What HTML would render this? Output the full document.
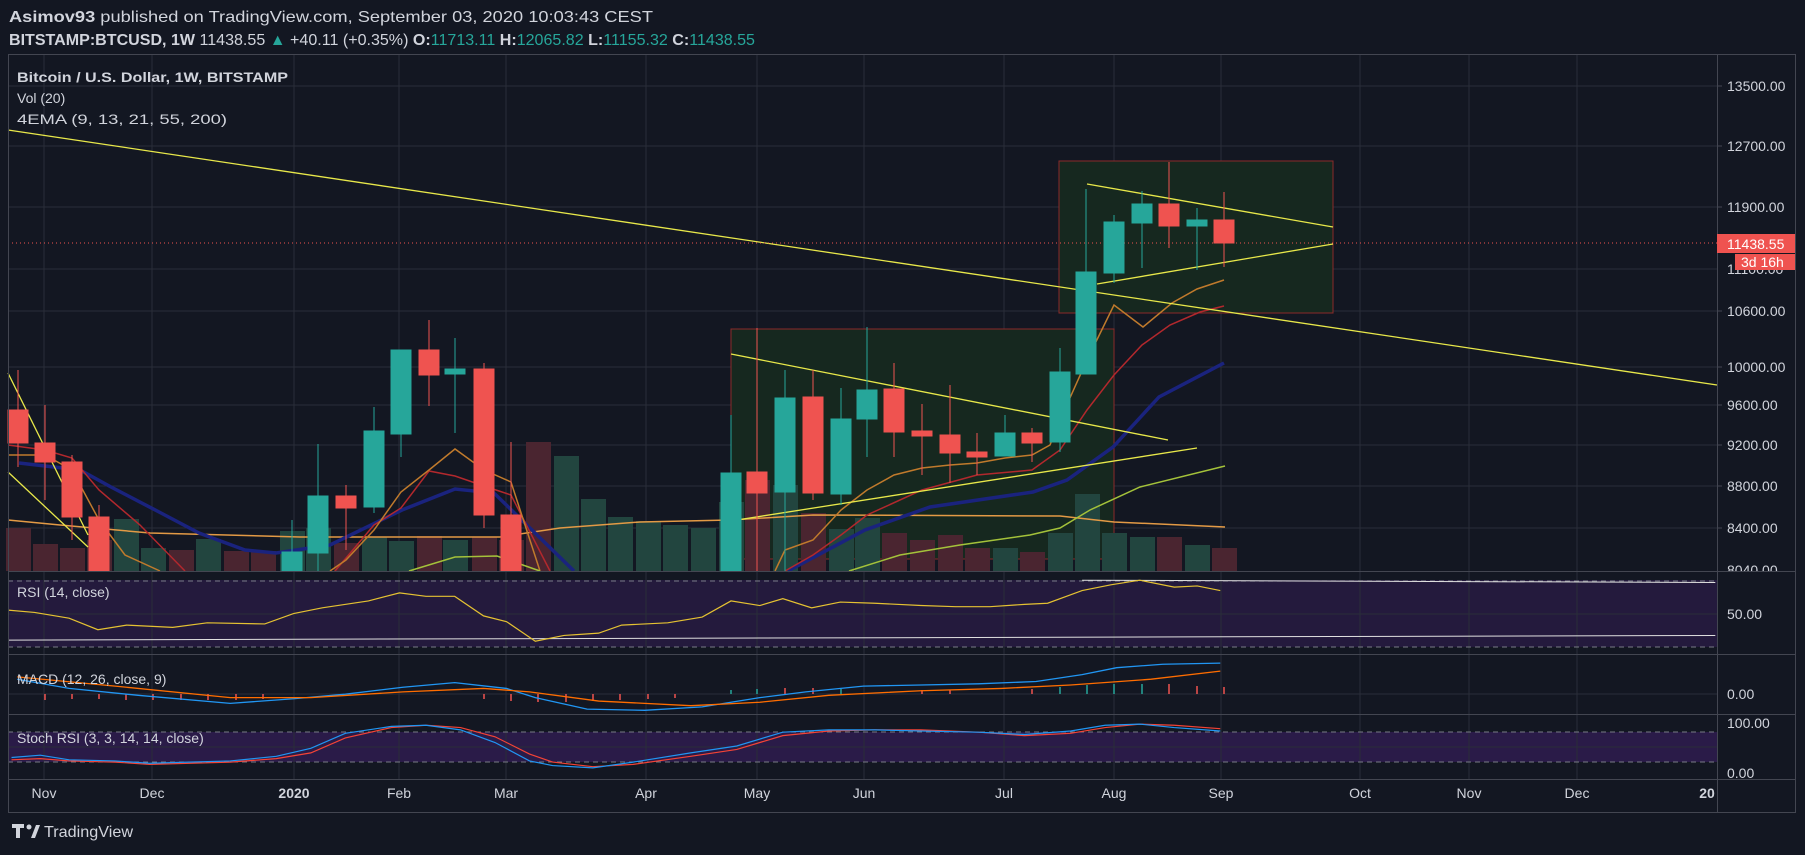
<!DOCTYPE html>
<html><head><meta charset="utf-8"><style>
html,body{margin:0;padding:0;background:#131722;}
svg{display:block;font-family:"Liberation Sans",sans-serif;}
</style></head><body>
<svg width="1805" height="855" viewBox="0 0 1805 855" xmlns="http://www.w3.org/2000/svg">
<defs>
<clipPath id="mainclip"><rect x="1718" y="54" width="78" height="517"/></clipPath>
<clipPath id="stclip"><rect x="1718" y="715" width="78" height="64"/></clipPath>
</defs>
<rect width="1805" height="855" fill="#131722"/>
<!-- header -->
<text x="9" y="22" font-size="16" fill="#d1d4dc" textLength="644" lengthAdjust="spacingAndGlyphs"><tspan font-weight="bold">Asimov93</tspan> published on TradingView.com, September 03, 2020 10:03:43 CEST</text>
<text x="9" y="45" font-size="16" fill="#d1d4dc" textLength="746" lengthAdjust="spacingAndGlyphs"><tspan font-weight="bold">BITSTAMP:BTCUSD, 1W</tspan> 11438.55 <tspan fill="#26a69a">▲</tspan> +40.11 (+0.35%) <tspan font-weight="bold">O:</tspan><tspan fill="#26a69a">11713.11</tspan> <tspan font-weight="bold">H:</tspan><tspan fill="#26a69a">12065.82</tspan> <tspan font-weight="bold">L:</tspan><tspan fill="#26a69a">11155.32</tspan> <tspan font-weight="bold">C:</tspan><tspan fill="#26a69a">11438.55</tspan></text>

<!-- panes background shading -->
<rect x="8" y="580" width="1709" height="67" fill="#241a3d"/>
<rect x="8" y="732" width="1709" height="30" fill="#2a1b48"/>

<!-- grid -->
<g stroke="#2a2e39" stroke-width="1">
<line x1="44" y1="54" x2="44" y2="779"/><line x1="152" y1="54" x2="152" y2="779"/><line x1="294" y1="54" x2="294" y2="779"/><line x1="399" y1="54" x2="399" y2="779"/><line x1="506" y1="54" x2="506" y2="779"/><line x1="646" y1="54" x2="646" y2="779"/><line x1="757" y1="54" x2="757" y2="779"/><line x1="864" y1="54" x2="864" y2="779"/><line x1="1004" y1="54" x2="1004" y2="779"/><line x1="1114" y1="54" x2="1114" y2="779"/><line x1="1221" y1="54" x2="1221" y2="779"/><line x1="1360" y1="54" x2="1360" y2="779"/><line x1="1469" y1="54" x2="1469" y2="779"/><line x1="1577" y1="54" x2="1577" y2="779"/>
<line x1="8" y1="86" x2="1717" y2="86"/><line x1="8" y1="146" x2="1717" y2="146"/><line x1="8" y1="207" x2="1717" y2="207"/><line x1="8" y1="269" x2="1717" y2="269"/><line x1="8" y1="311" x2="1717" y2="311"/><line x1="8" y1="367" x2="1717" y2="367"/><line x1="8" y1="405" x2="1717" y2="405"/><line x1="8" y1="445" x2="1717" y2="445"/><line x1="8" y1="486" x2="1717" y2="486"/><line x1="8" y1="528" x2="1717" y2="528"/>
<line x1="8" y1="614" x2="1717" y2="614"/><line x1="8" y1="694" x2="1717" y2="694"/><line x1="8" y1="747" x2="1717" y2="747"/>
</g>
<g stroke="#787b86" stroke-dasharray="5,4" stroke-width="1">
<line x1="8" y1="581" x2="1717" y2="581"/><line x1="8" y1="647" x2="1717" y2="647"/>
<line x1="8" y1="732" x2="1717" y2="732"/><line x1="8" y1="762" x2="1717" y2="762"/>
</g>

<!-- boxes -->
<rect x="731" y="329" width="383" height="230" fill="#16281f" stroke="#8b2a2a" stroke-width="1"/>
<rect x="1059" y="161" width="274" height="152" fill="#16281f" stroke="#8b2a2a" stroke-width="1"/>

<!-- volume -->
<g>
<rect x="6" y="528" width="25" height="43" fill="#4a2530"/><rect x="33" y="544" width="25" height="27" fill="#4a2530"/><rect x="60" y="548" width="25" height="23" fill="#4a2530"/><rect x="87" y="540" width="25" height="31" fill="#4a2530"/><rect x="114" y="519" width="25" height="52" fill="#22453f"/><rect x="141" y="548" width="25" height="23" fill="#22453f"/><rect x="169" y="550" width="25" height="21" fill="#4a2530"/><rect x="196" y="539" width="25" height="32" fill="#22453f"/><rect x="224" y="551" width="25" height="20" fill="#4a2530"/><rect x="251" y="551" width="25" height="20" fill="#4a2530"/><rect x="280" y="531" width="25" height="40" fill="#22453f"/><rect x="306" y="528" width="25" height="43" fill="#22453f"/><rect x="334" y="543" width="25" height="28" fill="#4a2530"/><rect x="362" y="537" width="25" height="34" fill="#22453f"/><rect x="389" y="541" width="25" height="30" fill="#22453f"/><rect x="417" y="536" width="25" height="35" fill="#4a2530"/><rect x="443" y="540" width="25" height="31" fill="#22453f"/><rect x="472" y="537" width="25" height="34" fill="#4a2530"/><rect x="499" y="540" width="25" height="31" fill="#4a2530"/><rect x="526" y="442" width="25" height="129" fill="#4a2530"/><rect x="554" y="456" width="25" height="115" fill="#22453f"/><rect x="581" y="499" width="25" height="72" fill="#22453f"/><rect x="608" y="517" width="25" height="54" fill="#22453f"/><rect x="636" y="521" width="25" height="50" fill="#22453f"/><rect x="663" y="525" width="25" height="46" fill="#22453f"/><rect x="691" y="528" width="25" height="43" fill="#22453f"/><rect x="719" y="502" width="25" height="69" fill="#22453f"/><rect x="745" y="480" width="25" height="91" fill="#4a2530"/><rect x="773" y="485" width="25" height="86" fill="#22453f"/><rect x="801" y="513" width="25" height="58" fill="#4a2530"/><rect x="829" y="529" width="25" height="42" fill="#22453f"/><rect x="855" y="518" width="25" height="53" fill="#22453f"/><rect x="882" y="533" width="25" height="38" fill="#4a2530"/><rect x="910" y="540" width="25" height="31" fill="#4a2530"/><rect x="938" y="535" width="25" height="36" fill="#4a2530"/><rect x="965" y="548" width="25" height="23" fill="#4a2530"/><rect x="993" y="548" width="25" height="23" fill="#22453f"/><rect x="1020" y="552" width="25" height="19" fill="#4a2530"/><rect x="1048" y="533" width="25" height="38" fill="#22453f"/><rect x="1075" y="494" width="25" height="77" fill="#22453f"/><rect x="1102" y="533" width="25" height="38" fill="#22453f"/><rect x="1130" y="537" width="25" height="34" fill="#22453f"/><rect x="1157" y="537" width="25" height="34" fill="#4a2530"/><rect x="1185" y="545" width="25" height="26" fill="#22453f"/><rect x="1212" y="548" width="25" height="23" fill="#4a2530"/>
</g>

<!-- EMAs -->
<g fill="none">
<polyline stroke="#e39a45" stroke-width="1.5" points="8,520 60,525 150,533 300,537 500,537 560,528 640,522 730,520 813,515 1060,516 1114,522 1225,527"/>
<polyline stroke="#1a237e" stroke-width="3.5" points="19,463 80,470 111,487 161,513 199,533 245,550 276,553 330,545 402,510 455,489 494,493 574,571"/>
<polyline stroke="#1a237e" stroke-width="3.5" points="788,571 865,530 930,507 1033,492 1067,480 1113,447 1159,397 1224,363"/>
<polyline stroke="#b2282d" stroke-width="1.5" points="8,445 45,450 72,458 99,490 140,525 185,571"/>
<polyline stroke="#b2282d" stroke-width="1.5" points="335,571 374,525 401,508 429,471 455,476 484,486 511,495 550,571"/>
<polyline stroke="#b2282d" stroke-width="1.5" points="785,571 813,555 841,535 867,515 922,490 977,475 1032,470 1060,450 1087,410 1114,375 1142,345 1170,325 1200,312 1224,306"/>
<polyline stroke="#c07a2c" stroke-width="1.5" points="8,455 45,455 72,470 99,520 125,555 160,571"/>
<polyline stroke="#c07a2c" stroke-width="1.5" points="330,571 346,560 374,530 401,492 429,470 455,449 484,470 511,482 540,571"/>
<polyline stroke="#c07a2c" stroke-width="1.5" points="775,571 785,550 813,540 841,510 867,490 894,475 922,468 950,465 977,463 1005,458 1032,455 1050,445 1060,420 1087,360 1114,305 1143,327 1172,303 1197,289 1224,280"/>
<polyline stroke="#a4c23a" stroke-width="1.5" points="409,571 455,557 497,556 540,571"/>
<polyline stroke="#a4c23a" stroke-width="1.5" points="849,571 900,555 960,545 1030,535 1060,528 1090,510 1140,487 1225,466"/>
</g>

<!-- trendlines -->
<g stroke="#e8e84a" stroke-width="1.3" fill="none">
<line x1="8" y1="130" x2="1717" y2="385"/>
<line x1="731" y1="354" x2="1168" y2="440"/>
<line x1="737" y1="520" x2="1197" y2="448"/>
<line x1="1087" y1="184" x2="1333" y2="227"/>
<line x1="1097" y1="284" x2="1333" y2="244"/>
<line x1="8" y1="373" x2="88" y2="535"/>
<line x1="8" y1="472" x2="88" y2="547"/>
</g>

<!-- current price line -->
<line x1="8" y1="243" x2="1717" y2="243" stroke="#ef5350" stroke-dasharray="1,3" stroke-width="1"/>

<!-- candles -->
<g>
<g stroke="#ef5350" fill="#ef5350">
<line x1="18" y1="370" x2="18" y2="467"/><rect x="8" y="410" width="20" height="33"/>
<line x1="45" y1="405" x2="45" y2="500"/><rect x="35" y="443" width="20" height="19"/>
<line x1="72" y1="455" x2="72" y2="540"/><rect x="62" y="462" width="20" height="55"/>
<line x1="99" y1="505" x2="99" y2="571"/><rect x="89" y="517" width="20" height="54"/>
<line x1="346" y1="485" x2="346" y2="550"/><rect x="336" y="496" width="20" height="12"/>
<line x1="429" y1="320" x2="429" y2="406"/><rect x="419" y="350" width="20" height="25"/>
<line x1="484" y1="363" x2="484" y2="528"/><rect x="474" y="369" width="20" height="146"/>
<line x1="511" y1="442" x2="511" y2="571"/><rect x="501" y="515" width="20" height="56"/>
<line x1="757" y1="328" x2="757" y2="571"/><rect x="747" y="472" width="20" height="21"/>
<line x1="813" y1="370" x2="813" y2="500"/><rect x="803" y="397" width="20" height="96"/>
<line x1="894" y1="363" x2="894" y2="457"/><rect x="884" y="389" width="20" height="43"/>
<line x1="922" y1="404" x2="922" y2="475"/><rect x="912" y="431" width="20" height="5"/>
<line x1="950" y1="385" x2="950" y2="483"/><rect x="940" y="435" width="20" height="18"/>
<line x1="977" y1="433" x2="977" y2="475"/><rect x="967" y="452" width="20" height="5"/>
<line x1="1032" y1="428" x2="1032" y2="462"/><rect x="1022" y="433" width="20" height="10"/>
<line x1="1169" y1="162" x2="1169" y2="248"/><rect x="1159" y="204" width="20" height="22"/>
<line x1="1224" y1="192" x2="1224" y2="267"/><rect x="1214" y="220" width="20" height="23"/>
</g>
<g stroke="#26a69a" fill="#26a69a">
<line x1="292" y1="520" x2="292" y2="571"/><rect x="282" y="552" width="20" height="19"/>
<line x1="318" y1="444" x2="318" y2="571"/><rect x="308" y="496" width="20" height="57"/>
<line x1="374" y1="407" x2="374" y2="513"/><rect x="364" y="431" width="20" height="76"/>
<line x1="401" y1="350" x2="401" y2="457"/><rect x="391" y="350" width="20" height="84"/>
<line x1="455" y1="338" x2="455" y2="433"/><rect x="445" y="369" width="20" height="5"/>
<line x1="731" y1="415" x2="731" y2="571"/><rect x="721" y="473" width="20" height="98"/>
<line x1="785" y1="370" x2="785" y2="571"/><rect x="775" y="398" width="20" height="94"/>
<line x1="841" y1="388" x2="841" y2="505"/><rect x="831" y="419" width="20" height="75"/>
<line x1="867" y1="327" x2="867" y2="457"/><rect x="857" y="390" width="20" height="29"/>
<line x1="1005" y1="415" x2="1005" y2="456"/><rect x="995" y="433" width="20" height="23"/>
<line x1="1060" y1="348" x2="1060" y2="452"/><rect x="1050" y="372" width="20" height="70"/>
<line x1="1086" y1="189" x2="1086" y2="374"/><rect x="1076" y="272" width="20" height="102"/>
<line x1="1114" y1="215" x2="1114" y2="283"/><rect x="1104" y="222" width="20" height="51"/>
<line x1="1142" y1="191" x2="1142" y2="268"/><rect x="1132" y="204" width="20" height="19"/>
<line x1="1197" y1="208" x2="1197" y2="270"/><rect x="1187" y="220" width="20" height="6"/>
</g>
</g>

<!-- MACD histogram ticks -->
<g stroke="#ef5350" stroke-width="1.5">
<line x1="45" y1="694" x2="45" y2="700"/><line x1="72" y1="694" x2="72" y2="699"/><line x1="99" y1="694" x2="99" y2="699"/><line x1="126" y1="694" x2="126" y2="700"/><line x1="153" y1="694" x2="153" y2="700"/><line x1="181" y1="694" x2="181" y2="700"/><line x1="208" y1="694" x2="208" y2="700"/><line x1="236" y1="694" x2="236" y2="700"/><line x1="263" y1="694" x2="263" y2="699"/><line x1="484" y1="694" x2="484" y2="699"/><line x1="511" y1="694" x2="511" y2="701"/><line x1="538" y1="694" x2="538" y2="702"/><line x1="566" y1="694" x2="566" y2="702"/><line x1="593" y1="694" x2="593" y2="701"/><line x1="620" y1="694" x2="620" y2="700"/><line x1="648" y1="694" x2="648" y2="699"/><line x1="675" y1="694" x2="675" y2="698"/>
<line x1="785" y1="688" x2="785" y2="694"/><line x1="813" y1="688" x2="813" y2="694"/><line x1="922" y1="690" x2="922" y2="694"/><line x1="950" y1="690" x2="950" y2="694"/><line x1="1032" y1="689" x2="1032" y2="694"/><line x1="1169" y1="684" x2="1169" y2="694"/><line x1="1197" y1="686" x2="1197" y2="694"/><line x1="1224" y1="687" x2="1224" y2="694"/>
</g>
<g stroke="#26a69a" stroke-width="1.5">
<line x1="731" y1="690" x2="731" y2="694"/><line x1="757" y1="689" x2="757" y2="694"/><line x1="841" y1="689" x2="841" y2="694"/><line x1="1060" y1="687" x2="1060" y2="694"/><line x1="1087" y1="685" x2="1087" y2="694"/><line x1="1114" y1="684" x2="1114" y2="694"/><line x1="1142" y1="684" x2="1142" y2="694"/>
</g>

<!-- indicator lines (in displayed coords scaled) -->
<g transform="scale(1.1512)" fill="none">
<polyline vector-effect="non-scaling-stroke" stroke="#e0e0e0" stroke-width="1" points="7,556 1490,552"/>
<polyline vector-effect="non-scaling-stroke" stroke="#e0e0e0" stroke-width="1" points="940,504 1490,506"/>
<polyline vector-effect="non-scaling-stroke" stroke="#e5c232" stroke-width="1.2" points="7,530 30,532 60,537 85,547 110,543 150,545 180,541 230,542 255,533 280,528 320,522 347,515 370,518 395,518 420,535 440,540 465,557 490,552 520,550 540,543 580,541 610,536 635,522 660,526 680,520 705,528 730,523 760,524 800,526 830,527 860,527 890,525 910,524 940,513 965,508 990,504 1020,510 1040,509 1060,513"/>
<polyline vector-effect="non-scaling-stroke" stroke="#2196f3" stroke-width="1.3" points="15,590 60,598 120,604 200,611 255,607 300,603 350,597 395,593 440,598 465,606 510,616 560,617 610,614 660,606 700,601 750,596 800,595 850,594 900,592 940,586 970,580 1010,577 1060,576"/>
<polyline vector-effect="non-scaling-stroke" stroke="#ff6d00" stroke-width="1.3" points="15,588 100,596 200,606 270,606 350,601 420,598 460,601 520,609 600,613 660,610 720,604 800,600 870,598 930,595 1000,590 1060,583"/>
<polyline vector-effect="non-scaling-stroke" stroke="#f44336" stroke-width="1.2" points="10,660 35,659 60,661 100,662 130,664 200,662 240,659 270,654 300,641 340,632 370,630 400,632 430,640 460,655 480,662 515,666 550,664 600,657 640,651 680,639 720,635 760,634 800,634 850,636 890,639 930,637 960,632 990,629 1020,630 1060,633"/>
<polyline vector-effect="non-scaling-stroke" stroke="#2196f3" stroke-width="1.2" points="10,658 35,656 60,660 100,661 130,663 200,661 240,657 270,650 300,637 340,631 370,630 400,634 430,645 460,661 480,665 515,667 550,662 600,654 640,648 680,636 720,634 760,634 800,635 850,636 890,638 930,635 960,630 990,629 1020,632 1060,635"/>
</g>

<!-- frame & separators -->
<g stroke="#434651" stroke-width="1" fill="none">
<rect x="8.5" y="54.5" width="1787" height="758"/>
<line x1="1717.5" y1="54" x2="1717.5" y2="813"/>
<line x1="8" y1="571.5" x2="1796" y2="571.5"/>
<line x1="8" y1="654.5" x2="1796" y2="654.5"/>
<line x1="8" y1="714.5" x2="1796" y2="714.5"/>
<line x1="8" y1="779.5" x2="1796" y2="779.5"/>
</g>

<!-- legends -->
<g font-size="14" fill="#d1d4dc">
<text x="17" y="82" font-weight="bold" textLength="271" lengthAdjust="spacingAndGlyphs">Bitcoin / U.S. Dollar, 1W, BITSTAMP</text>
<text x="17" y="103">Vol (20)</text>
<text x="17" y="124" textLength="210" lengthAdjust="spacingAndGlyphs">4EMA (9, 13, 21, 55, 200)</text>
<text x="17" y="597">RSI (14, close)</text>
<text x="17" y="684">MACD (12, 26, close, 9)</text>
<text x="17" y="743">Stoch RSI (3, 3, 14, 14, close)</text>
</g>

<!-- price axis -->
<g font-size="14" fill="#d1d4dc">
<text x="1727" y="91">13500.00</text><text x="1727" y="151">12700.00</text><text x="1727" y="212">11900.00</text><text x="1727" y="274">11100.00</text><text x="1727" y="316">10600.00</text><text x="1727" y="372">10000.00</text><text x="1727" y="410">9600.00</text><text x="1727" y="450">9200.00</text><text x="1727" y="491">8800.00</text><text x="1727" y="533">8400.00</text>
<text x="1727" y="575" clip-path="url(#mainclip)">8040.00</text>
<text x="1727" y="619">50.00</text><text x="1727" y="699">0.00</text><text x="1727" y="728">100.00</text>
<text x="1727" y="778" clip-path="url(#stclip)">0.00</text>
</g>
<g stroke="#434651"><line x1="1717" y1="86" x2="1722" y2="86"/><line x1="1717" y1="146" x2="1722" y2="146"/><line x1="1717" y1="207" x2="1722" y2="207"/><line x1="1717" y1="311" x2="1722" y2="311"/><line x1="1717" y1="367" x2="1722" y2="367"/><line x1="1717" y1="405" x2="1722" y2="405"/><line x1="1717" y1="445" x2="1722" y2="445"/><line x1="1717" y1="486" x2="1722" y2="486"/><line x1="1717" y1="528" x2="1722" y2="528"/></g>
<rect x="1717" y="234" width="78" height="19" fill="#ef5350"/>
<text x="1727" y="249" font-size="14" fill="#ffffff">11438.55</text>
<rect x="1735" y="254" width="60" height="16" fill="#ef5350"/>
<text x="1741" y="267" font-size="14" fill="#ffffff">3d 16h</text>

<!-- time axis -->
<g font-size="14" fill="#d1d4dc" text-anchor="middle">
<text x="44" y="798">Nov</text><text x="152" y="798">Dec</text><text x="294" y="798" font-weight="bold">2020</text><text x="399" y="798">Feb</text><text x="506" y="798">Mar</text><text x="646" y="798">Apr</text><text x="757" y="798">May</text><text x="864" y="798">Jun</text><text x="1004" y="798">Jul</text><text x="1114" y="798">Aug</text><text x="1221" y="798">Sep</text><text x="1360" y="798">Oct</text><text x="1469" y="798">Nov</text><text x="1577" y="798">Dec</text><text x="1707" y="798" font-weight="bold">20</text>
</g>

<!-- logo -->
<g fill="#d1d4dc">
<path d="M12 824 h12 v4 h-4 v10 h-4 v-10 h-4z"/>
<circle cx="29" cy="827" r="2.5"/>
<path d="M31 838 l5 -13 h4 l-5 13z"/>
<text x="44" y="837" font-size="16" textLength="89" lengthAdjust="spacingAndGlyphs">TradingView</text>
</g>
</svg>
</body></html>
